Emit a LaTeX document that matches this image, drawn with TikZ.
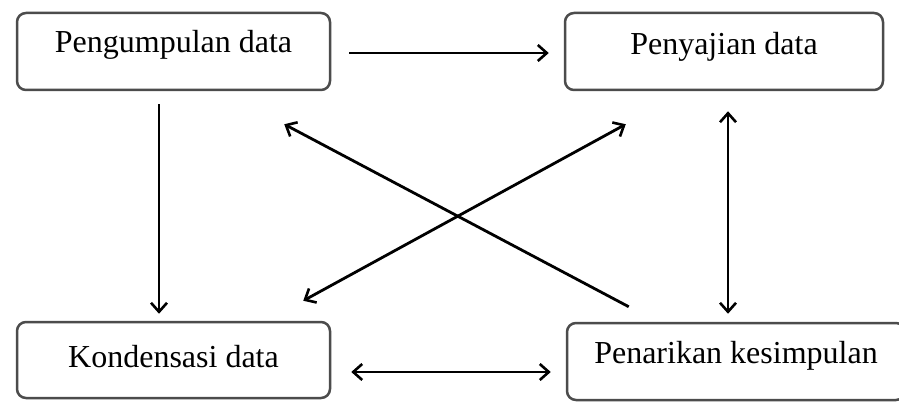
\documentclass[tikz,border=0pt]{standalone}
\usepackage{fontspec}
\setmainfont{Liberation Serif}
\usetikzlibrary{arrows.meta,calc}
\begin{document}
\begin{tikzpicture}[x=1pt,y=-1pt,
  box/.style={draw=black!70, line width=2.5pt, rounded corners=9pt, fill=white,
    inner sep=0pt, font=\fontsize{32}{36}\selectfont, text height=22pt},
  tip/.style={},
  conn/.style={line width=2.8pt, black, -{Straight Barb[length=9pt,width=16pt,line width=2.6pt]}},
  dconn/.style={line width=2.8pt, black, {Straight Barb[length=9pt,width=16pt,line width=2.6pt]}-{Straight Barb[length=9pt,width=16pt,line width=2.6pt]}}]
\useasboundingbox (0,0) rectangle (899,403);
\fill[white] (0,0) rectangle (899,403);
\node[box, text depth=19pt, minimum width=313pt, minimum height=77pt] (tl) at (173.5,51.5) {Pengumpulan data};
\node[box, text depth=15pt, minimum width=318pt, minimum height=77pt] (tr) at (724,51.5) {Penyajian data};
\node[box, text depth=7pt, minimum width=313pt, minimum height=76pt] (bl) at (173.5,360) {Kondensasi data};
\node[box, text depth=19pt, minimum width=338pt, minimum height=77pt] (br) at (736,361.5) {Penarikan kesimpulan};
% connectors
\draw[conn, shorten <=18pt, shorten >=15pt] ([yshift=-1.5pt]tl.east) -- ([yshift=-1.5pt]tr.west);
\draw[conn, shorten <=13pt, shorten >=7pt] ([xshift=-14.5pt]tl.south) -- ([xshift=-14.5pt]bl.north);
\draw[dconn, shorten <=20pt, shorten >=8pt] ([xshift=4pt]tr.south) -- ([xshift=-8pt]br.north);
\draw[dconn, shorten <=20pt, shorten >=15pt] ([yshift=-12pt]bl.east) -- ([yshift=-10.5pt]br.west);
\draw[conn] ($(br.north west)+(63,-15)$) -- ($(tl.south east)+(-47,33)$);
\draw[dconn] ($(bl.north east)+(-28,-20)$) -- ($(tr.south west)+(62,33)$);
\end{tikzpicture}
\end{document}
